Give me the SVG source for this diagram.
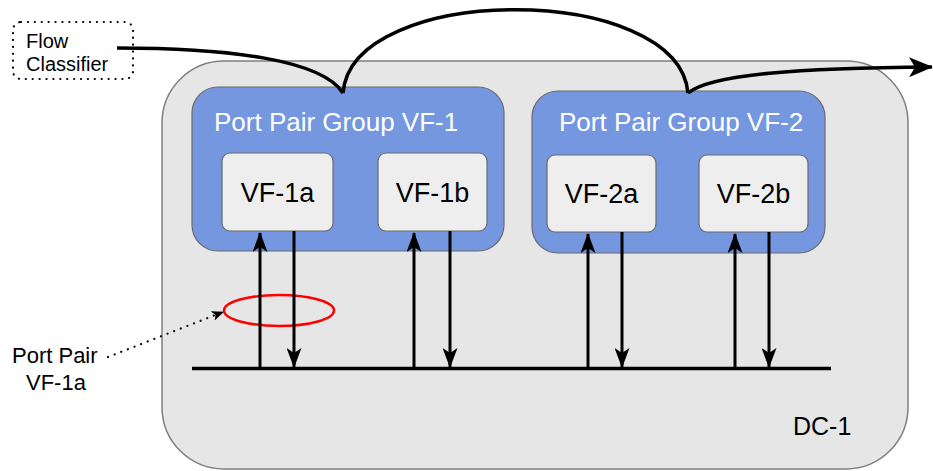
<svg xmlns="http://www.w3.org/2000/svg" width="933" height="471" viewBox="0 0 933 471">
  <style>
    text { font-family: "Liberation Sans", Arial, sans-serif; }
    .dc { fill: #e6e6e6; stroke: #7f7f7f; stroke-width: 1.5; }
    .ppg { fill: #7597e0; stroke: #6a6a6a; stroke-width: 1.2; }
    .vf { fill: #eeeeee; stroke: #6a6a6a; stroke-width: 1.2; }
    .ppg-label { fill: #ffffff; font-size: 26px; }
    .vf-label { fill: #000000; font-size: 27px; text-anchor: middle; }
    .link { fill: none; stroke: #000000; stroke-width: 3; }
    .flow { fill: none; stroke: #000000; stroke-width: 3.5; }
  </style>
  <defs>
    <marker id="head" viewBox="0 0 20 15" refX="19" refY="7.5" markerWidth="20" markerHeight="15" markerUnits="userSpaceOnUse" orient="auto">
      <path d="M0,0 L20,7.5 L0,15 L5,7.5 Z" fill="#000000"/>
    </marker>
    <marker id="head-lg" viewBox="0 0 24 20" refX="23" refY="10" markerWidth="24" markerHeight="20" markerUnits="userSpaceOnUse" orient="auto">
      <path d="M0,0 L24,10 L0,20 L6,10 Z" fill="#000000"/>
    </marker>
    <marker id="head-sm" viewBox="0 0 12 10" refX="11" refY="5" markerWidth="12" markerHeight="10" markerUnits="userSpaceOnUse" orient="auto">
      <path d="M0,0 L12,5 L0,10 L3,5 Z" fill="#000000"/>
    </marker>
  </defs>

  <!-- data centre -->
  <g id="dc-1">
    <rect class="dc" x="162" y="61" width="746" height="408" rx="62" ry="62"/>
    <text x="793" y="435" font-size="25">DC-1</text>
  </g>

  <!-- flow classifier -->
  <g id="flow-classifier">
    <rect x="13" y="22" width="120" height="57" rx="8" ry="8" fill="none" stroke="#000000" stroke-width="2.2" stroke-dasharray="0.1 6.8" stroke-linecap="round"/>
    <text x="26" y="48" font-size="20">Flow</text>
    <text x="26" y="71" font-size="20">Classifier</text>
  </g>

  <!-- port pair groups -->
  <g id="ppg-vf-1">
    <rect class="ppg" x="192" y="87" width="312" height="164" rx="26" ry="26"/>
    <text class="ppg-label" x="214" y="131">Port Pair Group VF-1</text>
  </g>
  <g id="ppg-vf-2">
    <rect class="ppg" x="532" y="91" width="293" height="162" rx="26" ry="26"/>
    <text class="ppg-label" x="559" y="131">Port Pair Group VF-2</text>
  </g>

  <!-- VNF instances -->
  <g id="vf-1a">
    <rect class="vf" x="222" y="153" width="111" height="78" rx="8" ry="8"/>
    <text class="vf-label" x="277.5" y="202">VF-1a</text>
  </g>
  <g id="vf-1b">
    <rect class="vf" x="378" y="153" width="109" height="78" rx="8" ry="8"/>
    <text class="vf-label" x="432.5" y="202">VF-1b</text>
  </g>
  <g id="vf-2a">
    <rect class="vf" x="547" y="155" width="109" height="77" rx="8" ry="8"/>
    <text class="vf-label" x="601.5" y="203">VF-2a</text>
  </g>
  <g id="vf-2b">
    <rect class="vf" x="699" y="155" width="109" height="77" rx="8" ry="8"/>
    <text class="vf-label" x="753.5" y="203">VF-2b</text>
  </g>

  <!-- port pair annotation -->
  <g id="port-pair-vf-1a">
    <ellipse cx="279" cy="310.5" rx="55" ry="15.5" fill="none" stroke="#ff0000" stroke-width="2.5"/>
    <text x="12" y="363" font-size="22">Port Pair</text>
    <text x="26" y="390" font-size="22">VF-1a</text>
  </g>

  <!-- connectors -->
  <g id="connectors">
    <!-- network segment -->
    <line x1="192" y1="368.5" x2="831" y2="368.5" stroke="#000000" stroke-width="3.5"/>
    <!-- ingress / egress ports -->
    <line class="link" x1="260" y1="368" x2="260" y2="233" marker-end="url(#head)"/>
    <line class="link" x1="294" y1="231" x2="294" y2="367" marker-end="url(#head)"/>
    <line class="link" x1="414" y1="368" x2="414" y2="233" marker-end="url(#head)"/>
    <line class="link" x1="450" y1="231" x2="450" y2="367" marker-end="url(#head)"/>
    <line class="link" x1="588" y1="368" x2="588" y2="234" marker-end="url(#head)"/>
    <line class="link" x1="622" y1="232" x2="622" y2="367" marker-end="url(#head)"/>
    <line class="link" x1="735" y1="368" x2="735" y2="234" marker-end="url(#head)"/>
    <line class="link" x1="769" y1="232" x2="769" y2="367" marker-end="url(#head)"/>
    <!-- service chain path -->
    <path class="flow" d="M117,48 C230,48 322,60 343,93"/>
    <path class="flow" d="M343,93 C352,-18 678,-18 688,93"/>
    <path class="flow" d="M688,93 C712,74 800,68 932,67" marker-end="url(#head-lg)"/>
    <!-- annotation pointer -->
    <path d="M108,357 L223,312" fill="none" stroke="#000000" stroke-width="2.2" stroke-dasharray="0.1 7" stroke-linecap="round" marker-end="url(#head-sm)"/>
  </g>
</svg>
